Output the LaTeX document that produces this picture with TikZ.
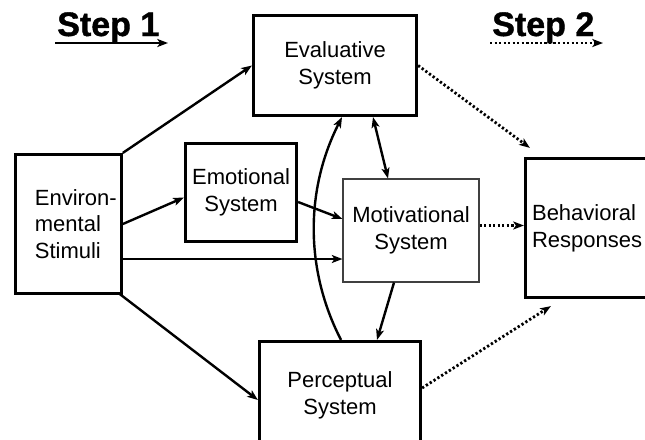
\documentclass[tikz,border=0pt]{standalone}
\usepackage{fontspec}
\setmainfont{Liberation Sans}
\newfontfamily\stepfont[FakeBold=1.2]{Liberation Sans Bold}
\usetikzlibrary{arrows.meta,calc}
\begin{document}
\begin{tikzpicture}[x=0.75pt,y=-0.75pt,
    tip/.tip={Stealth[length=8pt,width=6pt,inset=2pt]},
    conn/.style={line width=1.8pt,-tip},
    both/.style={conn,tip-tip},
    dots/.style={conn,line width=2.1pt,dash pattern=on 1.7pt off 1.7pt}]
        \useasboundingbox (0,0) rectangle (645,439);
        \clip (0,0) rectangle (645,439);
        \begin{scope}[every node/.style={rectangle,draw,line width=2.4pt,align=center,
                font=\fontsize{16.5pt}{20pt}\selectfont}]
            \node[minimum width=122.25pt,minimum height=75pt] (eval) at (335,65.5) {Evaluative\\System};
            \node[minimum width=78pt,minimum height=104.25pt,align=left] (env) at (68.5,224) {\hspace*{11pt}Environ-\\\hspace*{11pt}mental\\\hspace*{11pt}Stimuli};
            \node[minimum width=83.25pt,minimum height=73.5pt] (emo) at (241,192.5) {Emotional\\System};
            \node[minimum width=102pt,minimum height=77.25pt,line width=0.8pt,draw=black!75] (mot) at (411,230.5) {Motivational\\System};
            \node[minimum width=100.9pt,minimum height=104.25pt,text width=91pt,align=left] (beh) at (592.75,228) {Behavioral\\Responses};
            \node[minimum width=120.75pt,minimum height=80.25pt] (perc) at (340,395) {Perceptual\\System};
        \end{scope}
        \begin{scope}[every node/.style={anchor=base west,inner sep=0pt,font=\fontsize{25.5pt}{28pt}\stepfont}]
            \node (step1) at (57,36) {Step 1};
            \node (step2) at (492,36) {Step 2};
        \end{scope}
        \coordinate (s1l) at (55,43);
        \coordinate (s1r) at (168,43);
        \coordinate (s2l) at (490,43);
        \coordinate (s2r) at (603,43);
        \path
            (s1l) edge [conn] (s1r)
            (s2l) edge [dots] (s2r)
            (env.north east) edge [conn] (eval.west)
            (env.east) edge [conn] ($(emo.west)+(0,5)$)
            ($(env.east)+(0,35)$) edge [conn] ($(mot.west)+(0,28.5)$)
            ($(emo.east)+(0,9.5)$) edge [conn] ($(mot.west)+(0,-11.5)$)
            ($(env.south east)+(-3,-1)$) edge [conn] ($(perc.west)+(0,5)$)
            ($(eval.south)+(38,0)$) edge [both] ($(mot.north)+(-23,0)$)
            ($(mot.south)+(-17,0)$) edge [conn] ($(perc.north)+(37,0)$)
            (eval.east) edge [dots] ($(beh.north west)+(6,-9)$)
            ($(mot.east)+(0,-5)$) edge [dots] ($(beh.west)+(0,-2.5)$)
            ($(perc.east)+(0,-7)$) edge [dots] ($(beh.south west)+(27,7)$);
        \draw[conn] ($(perc.north)+(1,0)$) .. controls (305,270) and (305,190) .. ($(eval.south)+(7,0)$);
\end{tikzpicture}
\end{document}
